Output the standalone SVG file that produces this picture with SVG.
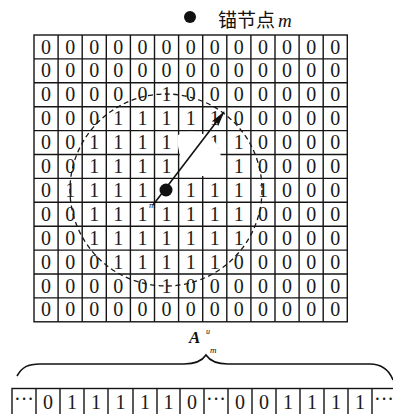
<svg xmlns="http://www.w3.org/2000/svg" width="393" height="414" viewBox="0 0 393 414">
<style>
.g{fill:none;stroke:#151515;stroke-width:1.4}
.d{font-family:"Liberation Serif",serif;font-size:20px;fill:#1a1a1a;text-anchor:middle}
.it{font-family:"Liberation Serif",serif;font-style:italic;fill:#111}
</style>
<defs>
<marker id="ah" viewBox="0 0 16 9" refX="15" refY="4.5" markerWidth="16" markerHeight="9" markerUnits="userSpaceOnUse" orient="auto">
<path d="M0,0.5 L16,4.5 L0,8.5 L3,4.5 Z" fill="#111"/>
</marker>
</defs>
<rect width="393" height="414" fill="#fff"/>

<g id="legend">
<circle cx="190" cy="17" r="6" fill="#111"/>
<text x="218" y="27" font-family="'Noto Sans CJK SC',sans-serif" font-size="19" fill="#111">锚节点</text>
<text class="it" x="278" y="27" font-size="19">m</text>
</g>

<g id="grid">
<rect class="g" x="34" y="35" width="313.3" height="286.8" stroke-width="1.8"/>
<path class="g" d="M58.1,35V321.8M82.2,35V321.8M106.3,35V321.8M130.4,35V321.8M154.5,35V321.8M178.6,35V321.8M202.7,35V321.8M226.8,35V321.8M250.9,35V321.8M275,35V321.8M299.1,35V321.8M323.2,35V321.8M34,58.9H347.3M34,82.8H347.3M34,106.7H347.3M34,130.6H347.3M34,154.5H347.3M34,178.4H347.3M34,202.3H347.3M34,226.2H347.3M34,250.1H347.3M34,274H347.3M34,297.9H347.3"/>
<text class="d" x="46.05 70.15 94.25 118.35 142.45 166.55 190.65 214.75 238.85 262.95 287.05 311.15 335.25" y="53.5">0000000000000</text>
<text class="d" x="46.05 70.15 94.25 118.35 142.45 166.55 190.65 214.75 238.85 262.95 287.05 311.15 335.25" y="77.4">0000000000000</text>
<text class="d" x="46.05 70.15 94.25 118.35 142.45 166.55 190.65 214.75 238.85 262.95 287.05 311.15 335.25" y="101.3">0000010000000</text>
<text class="d" x="46.05 70.15 94.25 118.35 142.45 166.55 190.65 214.75 238.85 262.95 287.05 311.15 335.25" y="125.2">0001111100000</text>
<text class="d" x="46.05 70.15 94.25 118.35 142.45 166.55 214.75 238.85 262.95 287.05 311.15 335.25" y="149.1">001111110000</text>
<text class="d" x="46.05 70.15 94.25 118.35 142.45 166.55 238.85 262.95 287.05 311.15 335.25" y="173">00111110000</text>
<text class="d" x="46.05 70.15 94.25 118.35 142.45" y="196.9">01111</text>
<text class="d" x="190.65 214.75 238.85 262.95 287.05 311.15 335.25" y="196.9">1111000</text>
<text class="d" x="46.05 70.15 94.25 118.35 142.45" y="220.8">00111</text>
<text class="d" x="166.55 190.65 214.75 238.85 262.95 287.05 311.15 335.25" y="220.8">11110000</text>
<text class="d" x="46.05 70.15 94.25 118.35 142.45 166.55 190.65 214.75 238.85 262.95 287.05 311.15 335.25" y="244.7">0011111110000</text>
<text class="d" x="46.05 70.15 94.25 118.35 142.45 166.55 190.65 214.75 238.85 262.95 287.05 311.15 335.25" y="268.6">0001111100000</text>
<text class="d" x="46.05 70.15 94.25 118.35 142.45 166.55 190.65 214.75 238.85 262.95 287.05 311.15 335.25" y="292.5">0000010000000</text>
<text class="d" x="46.05 70.15 94.25 118.35 142.45 166.55 190.65 214.75 238.85 262.95 287.05 311.15 335.25" y="316.4">0000000000000</text>
</g>

<g id="range">
<circle cx="166" cy="190" r="96" fill="none" stroke="#1a1a1a" stroke-width="1.3" stroke-dasharray="5 3.5"/>
<path d="M178,135 C186,130 200,130 212,139 C221,147 223,160 219,170 C213,178 198,178 189,171 C181,163 176,146 178,135 Z" fill="#fff"/>
</g>

<g id="connectors">
<line x1="153" y1="205" x2="224" y2="112" stroke="#111" stroke-width="1.6" marker-end="url(#ah)"/>
</g>

<g id="anchor-m">
<circle cx="166" cy="190" r="6.5" fill="#111"/>
<text class="it" x="149" y="208" font-size="9">m</text>
</g>

<g id="brace">
<path d="M17,376 C22,367 28,364 40,364 L184,364 C196,364 202,361 206,355 C210,361 216,364 228,364 L370,364 C382,364 389,370 393,380" fill="none" stroke="#111" stroke-width="1.6"/>
<text x="189" y="343" font-family="'Liberation Serif',serif" font-style="italic" font-weight="bold" font-size="17" fill="#111">A</text>
<text class="it" x="206" y="334" font-size="8">u</text>
<text class="it" x="210" y="353" font-size="9">m</text>
</g>

<g id="vector">
<rect class="g" x="12" y="388.5" width="395" height="30"/>
<path class="g" d="M36,388.5V414M60,388.5V414M84,388.5V414M108,388.5V414M133,388.5V414M157,388.5V414M180,388.5V414M204,388.5V414M228,388.5V414M252,388.5V414M276,388.5V414M300,388.5V414M324,388.5V414M348,388.5V414M372,388.5V414"/>
<text class="d" x="48 72 96 120.5 145 168.5 192" y="409">0111110</text>
<text class="d" x="240 264 288 312 336 360" y="409">001111</text>
<text class="d" x="24" y="406" font-size="17">···</text>
<text class="d" x="216" y="406" font-size="17">···</text>
<text class="d" x="384" y="406" font-size="17">···</text>
</g>
</svg>
